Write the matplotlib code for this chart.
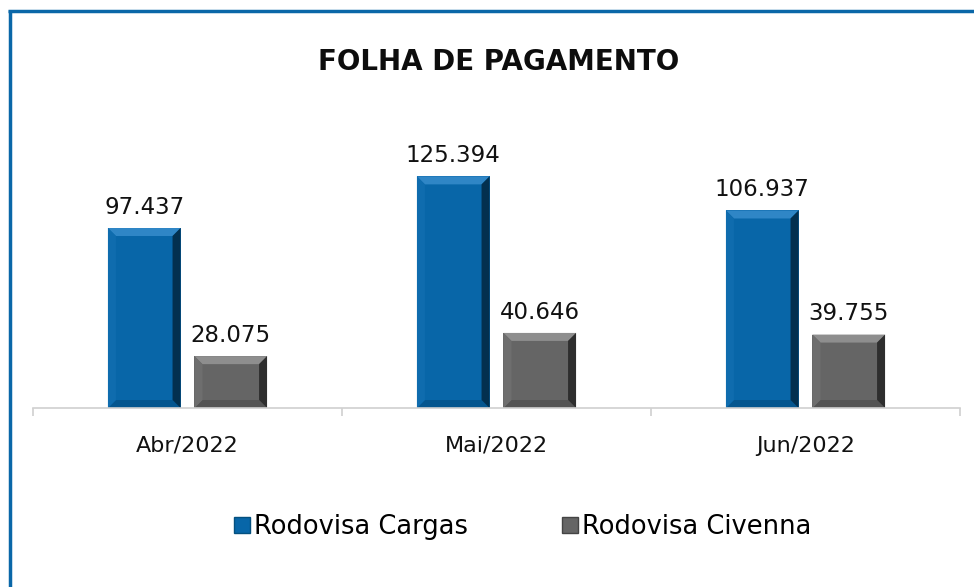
import numpy as np
import matplotlib.pyplot as plt
from matplotlib.patches import Polygon
from matplotlib.lines import Line2D

months = ['Abr/2022', 'Mai/2022', 'Jun/2022']
cargas = [97.437, 125.394, 106.937]
civenna = [28.075, 40.646, 39.755]
series_names = ['Rodovisa Cargas', 'Rodovisa Civenna']

blue = '#0866a8'
gray = '#656565'

fig = plt.figure(figsize=(9.74, 5.87), dpi=100)
ax = fig.add_axes([33/974, 1-408/587, 927/974, 258.6/587])

x = np.arange(len(months))
w = 0.235
off = 0.14
b1 = ax.bar(x - off, cargas, w, color=blue)
b2 = ax.bar(x + off, civenna, w, color=gray)
ax.set_xlim(-0.5, 2.5)
ax.set_ylim(0, 140)

# bevel effect on each bar
bx = 8/309
by = 8/(258.6/140)
shades = {blue: ('#2f86c6', '#05568f', '#0f6cae', '#03304f'),
          gray: ('#8e8e8e', '#545454', '#6e6e6e', '#2e2e2e')}
for bars, col in ((b1, blue), (b2, gray)):
    top, bot, left, right = shades[col]
    for r in bars:
        x0, y0 = r.get_x(), r.get_y()
        x1, y1 = x0 + r.get_width(), y0 + r.get_height()
        ax.add_patch(Polygon([(x0, y1), (x1, y1), (x1-bx, y1-by), (x0+bx, y1-by)], closed=True, color=top, lw=0))
        ax.add_patch(Polygon([(x0, y0), (x1, y0), (x1-bx, y0+by), (x0+bx, y0+by)], closed=True, color=bot, lw=0))
        ax.add_patch(Polygon([(x0, y0), (x0+bx, y0+by), (x0+bx, y1-by), (x0, y1)], closed=True, color=left, lw=0))
        ax.add_patch(Polygon([(x1, y0), (x1-bx, y0+by), (x1-bx, y1-by), (x1, y1)], closed=True, color=right, lw=0))

for bars, vals in ((b1, cargas), (b2, civenna)):
    for r, v in zip(bars, vals):
        ax.text(r.get_x() + r.get_width()/2, v + 5, f'{v:.3f}', ha='center', va='bottom',
                fontsize=16.5, color='#111111')

for s in ['top', 'right', 'left']:
    ax.spines[s].set_visible(False)
ax.spines['bottom'].set_color('#d0d0d0')
ax.spines['bottom'].set_linewidth(1.2)
ax.set_yticks([])
ax.set_xticks(x)
ax.set_xticklabels(months, fontsize=16, color='#111111')
ax.tick_params(axis='x', which='major', length=0, pad=20)
ax.set_xticks([-0.5, 0.5, 1.5, 2.5], minor=True)
ax.tick_params(axis='x', which='minor', length=6, color='#d0d0d0', width=1.2)

fig.text(499/974, 1-62/587, 'FOLHA DE PAGAMENTO', ha='center', va='center', fontsize=20,
         fontweight='bold', color='#0d0d0d')

handles = [Line2D([], [], marker='s', ls='', markersize=12, markerfacecolor=blue, markeredgecolor='#04507f'),
           Line2D([], [], marker='s', ls='', markersize=12, markerfacecolor=gray, markeredgecolor='#444444')]
fig.legend(handles, series_names, loc='center', bbox_to_anchor=(521.5/974, 1-527/587), ncol=2,
           frameon=False, fontsize=18.5, handletextpad=0.05, columnspacing=3.6, handlelength=0.8)

# blue frame on top and left
fig.add_artist(Line2D([9.5/974, 9.5/974], [0, 1-10/587], color='#0a67a8', lw=2.5, solid_capstyle='butt'))
fig.add_artist(Line2D([8/974, 1], [1-11/587, 1-11/587], color='#0a67a8', lw=2.5, solid_capstyle='butt'))

plt.savefig('out.png', dpi=100)
